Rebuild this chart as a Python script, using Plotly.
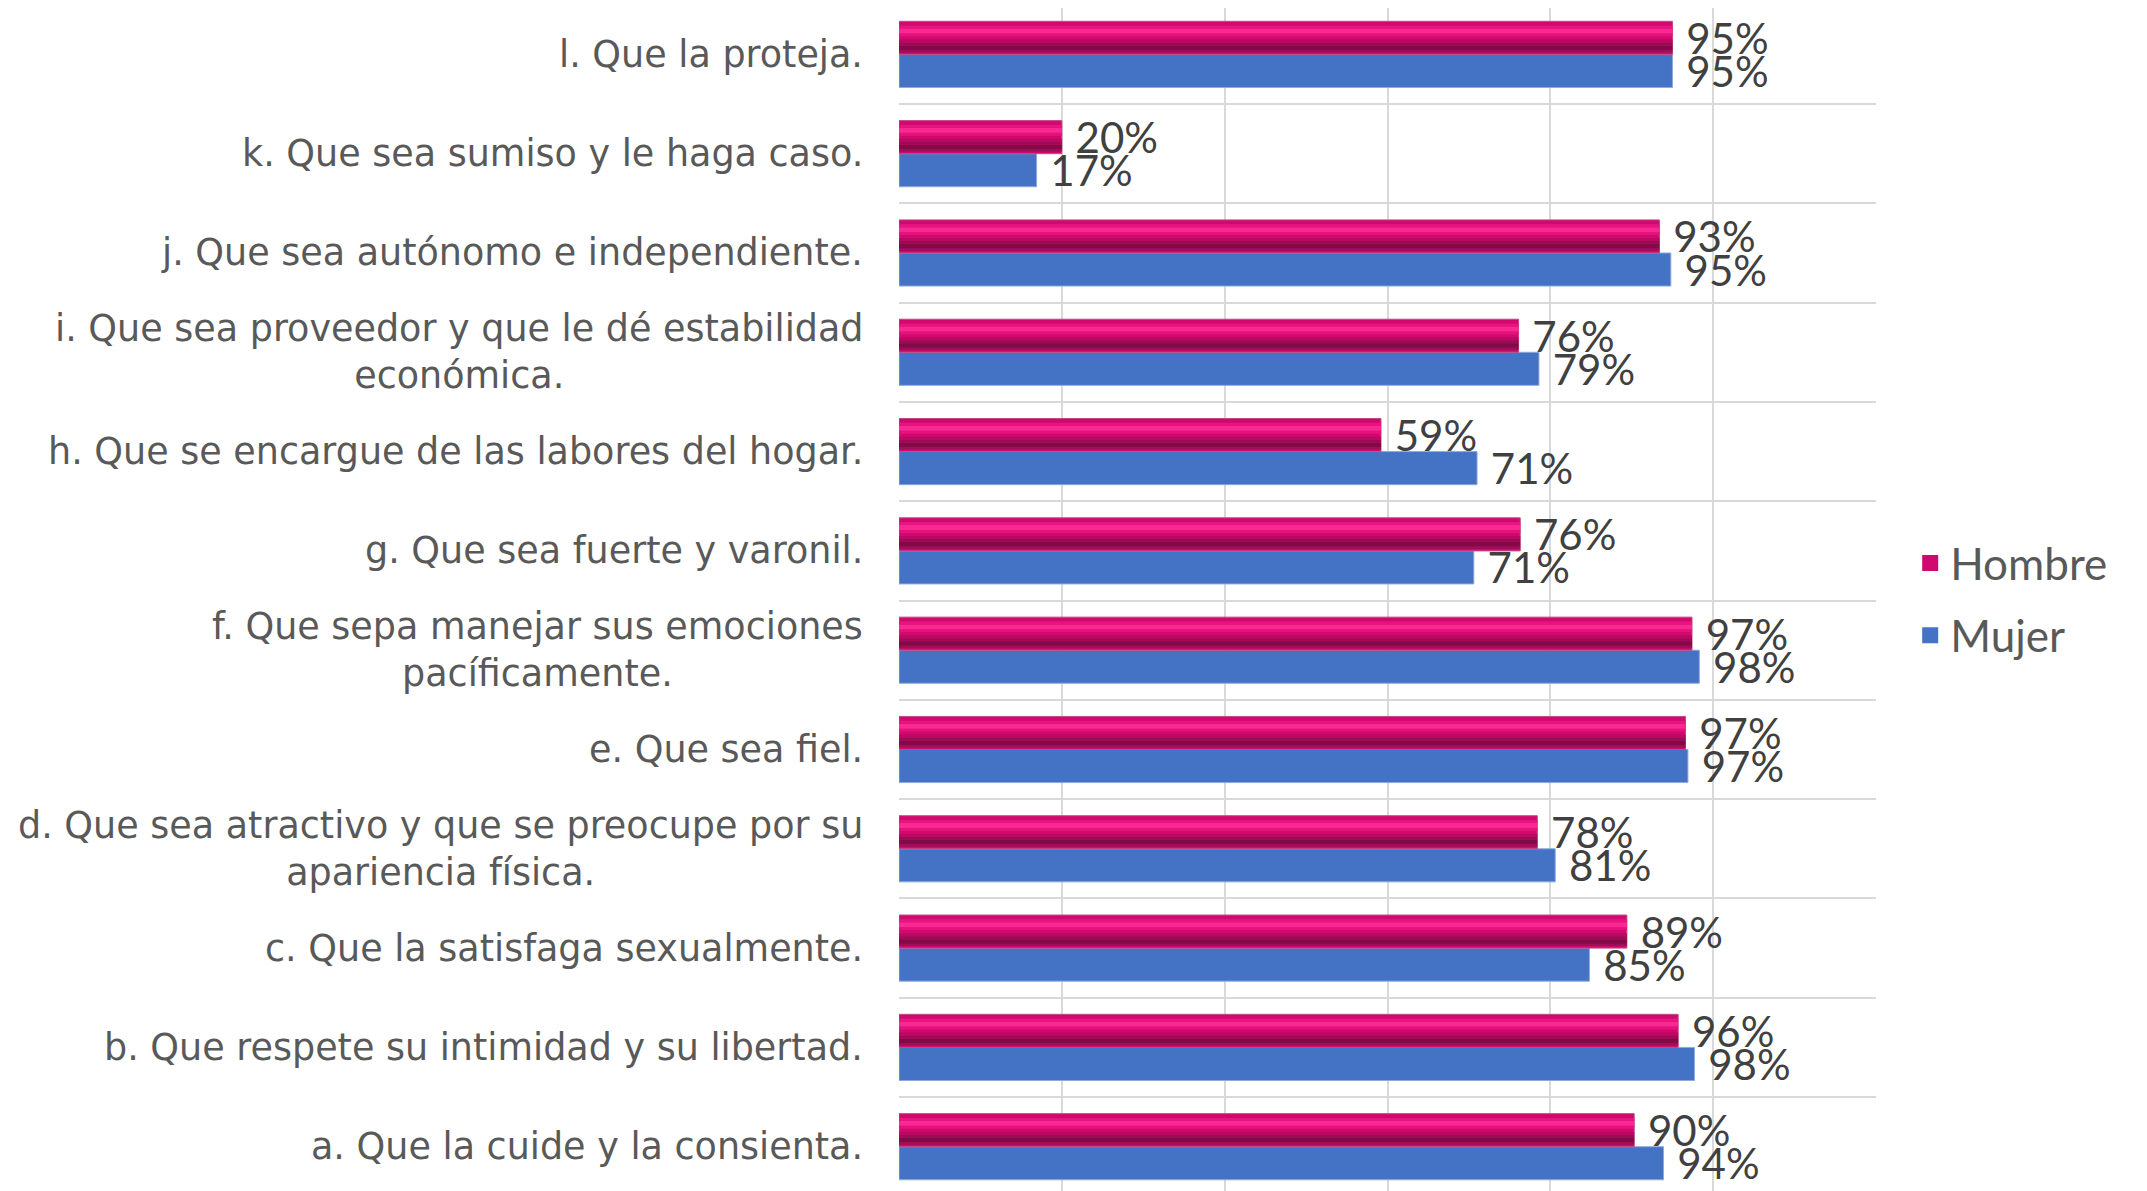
import plotly.graph_objects as go

categories = [
    "a. Que la cuide y la consienta.",
    "b. Que respete su intimidad y su libertad.",
    "c. Que la satisfaga sexualmente.",
    "d. Que sea atractivo y que se preocupe por su<br>apariencia física.",
    "e. Que sea fiel.",
    "f. Que sepa manejar sus emociones<br>pacíficamente.",
    "g. Que sea fuerte y varonil.",
    "h. Que se encargue de las labores del hogar.",
    "i. Que sea proveedor y que le dé estabilidad<br>económica.",
    "j. Que sea autónomo e independiente.",
    "k. Que sea sumiso y le haga caso.",
    "l. Que la proteja.",
]
hombre = [0.903, 0.957, 0.894, 0.784, 0.966, 0.974, 0.763, 0.592, 0.761, 0.934, 0.200, 0.950]
mujer = [0.939, 0.977, 0.848, 0.806, 0.969, 0.983, 0.706, 0.710, 0.786, 0.948, 0.169, 0.950]
series_names = ["Hombre", "Mujer"]

CAT_FONT = "'DejaVu Sans', sans-serif"
LBL_FONT = "Lato, 'Open Sans', sans-serif"
TXT = "#595959"
LBL = "#404040"
GRID = "#D9D9D9"
BW = 0.333  # bar thickness in category units
H_COL = "#D1086E"
M_COL = "#4472C4"

fig = go.Figure()

# Mujer (lower bar in each group)
fig.add_trace(go.Bar(
    y=categories, x=mujer, orientation="h", name=series_names[1], showlegend=False,
    width=BW, offset=-BW, marker=dict(color=M_COL, line=dict(color="#8EA9DB", width=1)),
    texttemplate=" %{x:.0%}", textposition="outside", constraintext="none",
    textfont=dict(family=LBL_FONT, size=42, color=LBL), cliponaxis=False,
    hoverinfo="skip",
))
# Hombre (upper bar) - base colour
fig.add_trace(go.Bar(
    y=categories, x=hombre, orientation="h", name=series_names[0], showlegend=False,
    width=BW, offset=0, marker=dict(color=H_COL, line=dict(color="#C04A86", width=1)),
    texttemplate=" %{x:.0%}", textposition="outside", constraintext="none",
    textfont=dict(family=LBL_FONT, size=42, color=LBL), cliponaxis=False,
    hoverinfo="skip",
))
# bevel shading on Hombre bars (same data, thinner stripes)
for off, w, col in [
    (0.02, 0.025, "#9E0F58"),
    (0.045, 0.045, "#820A47"),
    (0.09, 0.03, "#9C0C55"),
    (0.12, 0.03, "#BA0963"),
    (0.18, 0.03, "#E4137C"),
    (0.21, 0.05, "#FA2892"),
    (0.26, 0.03, "#E8147F"),
]:
    fig.add_trace(go.Bar(
        y=categories, x=hombre, orientation="h", showlegend=False,
        width=w, offset=off, marker=dict(color=col, line=dict(width=0)),
        hoverinfo="skip",
    ))

# legend entries
for nm, col, rank in [(series_names[0], H_COL, 1), (series_names[1], M_COL, 2)]:
    fig.add_trace(go.Scatter(
        x=[None], y=[None], mode="markers", name=nm, legendrank=rank,
        marker=dict(symbol="square", size=22, color=col), legendgroup=nm,
    ))

for cat in categories:
    fig.add_annotation(
        x=0, xref="paper", xanchor="right", xshift=-34,
        y=cat, yref="y", yanchor="middle",
        text=cat, showarrow=False, align="center",
        font=dict(family=CAT_FONT, size=36.5, color=TXT),
    )

# top border of the plot area
fig.add_shape(type="line", xref="paper", yref="paper", x0=0, x1=1, y0=1.0025, y1=1.0025,
              line=dict(color=GRID, width=2), layer="below")

fig.update_layout(
    width=2139, height=1183,
    margin=dict(l=891, r=271, t=0, b=0),
    paper_bgcolor="white", plot_bgcolor="white",
    barmode="overlay",
    showlegend=True,
    legend=dict(
        x=1.035, xanchor="left", y=0.5, yanchor="middle",
        font=dict(family=LBL_FONT, size=44, color=TXT),
        tracegroupgap=12, traceorder="grouped", itemsizing="trace",
        bgcolor="rgba(0,0,0,0)",
    ),
    xaxis=dict(
        range=[0, 1.2], dtick=0.2, tick0=0, showgrid=True,
        gridcolor=GRID, gridwidth=2, zeroline=False,
        showticklabels=False, ticks="",
    ),
    yaxis=dict(
        type="category", categoryorder="array", categoryarray=categories,
        range=[-0.446, 11.467], tickson="boundaries", showgrid=True,
        gridcolor=GRID, gridwidth=2, showticklabels=False, ticks="",
        zeroline=False,
    ),
)

fig.write_html("out.html")
